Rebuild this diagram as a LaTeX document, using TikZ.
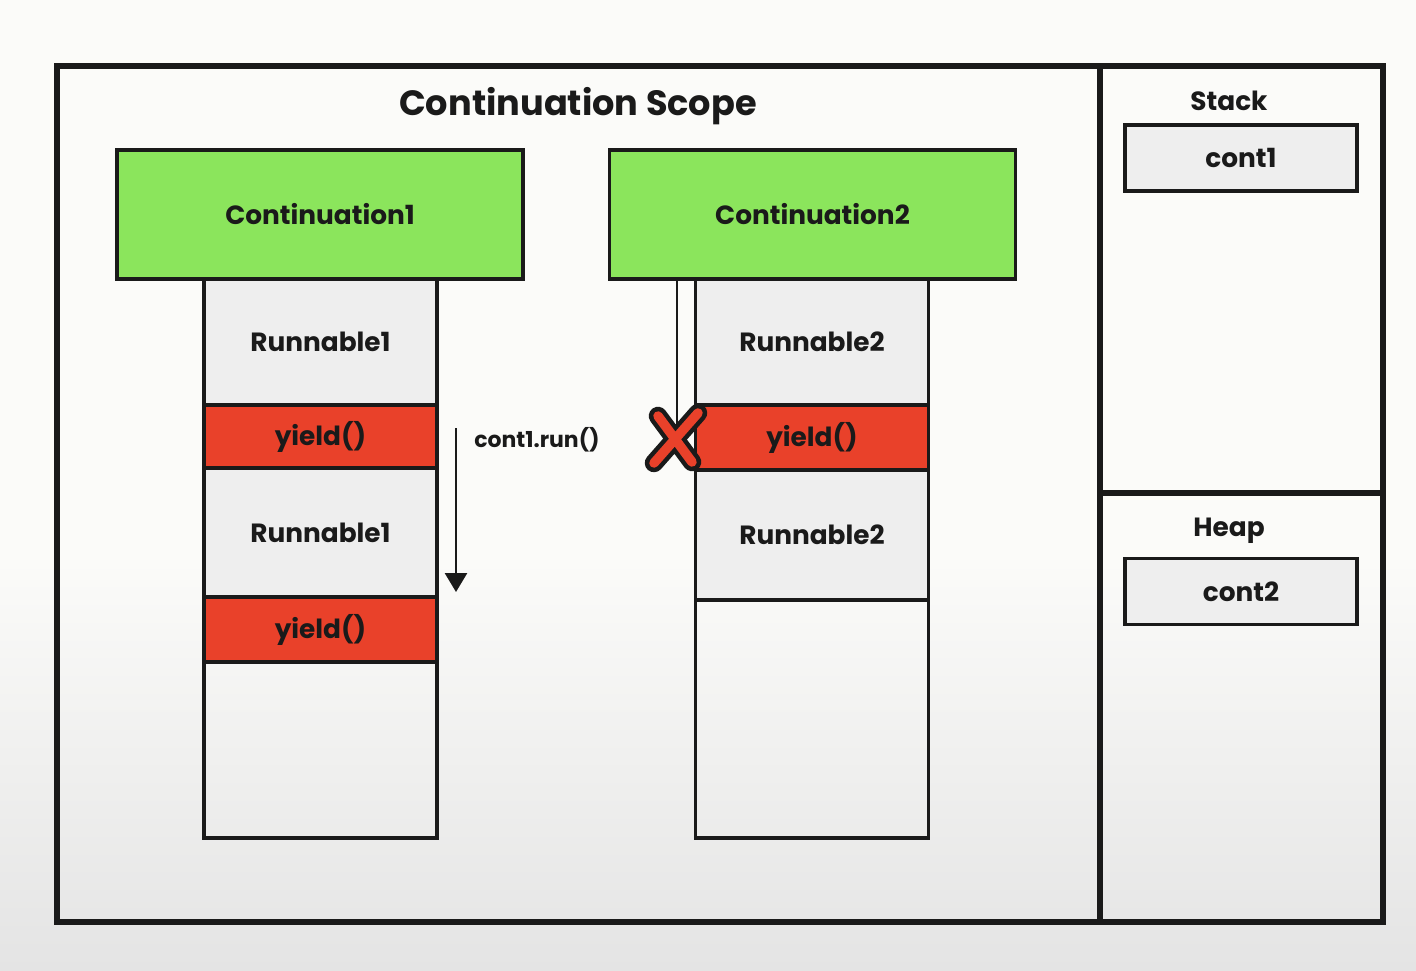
\documentclass[tikz,border=0pt]{standalone}
\usepackage{fontspec}
\setmainfont{Poppins}
\usetikzlibrary{arrows.meta}

\definecolor{contgreen}{HTML}{8BE55C}
\definecolor{yieldred}{HTML}{E9412A}
\definecolor{cellgrey}{HTML}{EEEEEE}
\definecolor{inkblack}{HTML}{1A1A1A}
\definecolor{paper}{HTML}{FBFBF9}
\definecolor{paperlow}{HTML}{E4E4E4}

\tikzset{
  cell/.style={draw=inkblack, line width=1.9pt, minimum width=4.66cm, font=\fontsize{15}{18}\selectfont\bfseries, text=inkblack},
  runcell/.style={cell, fill=cellgrey},
  yieldcell/.style={cell, fill=yieldred},
  contbox/.style={draw=inkblack, line width=1.9pt, fill=contgreen, minimum width=8.12cm, minimum height=2.58cm, font=\fontsize{15}{18}\selectfont\bfseries, text=inkblack},
  memlabel/.style={font=\fontsize{15}{18}\selectfont\bfseries, text=inkblack},
  membox/.style={draw=inkblack, line width=1.9pt, fill=cellgrey, minimum width=4.64cm, minimum height=1.32cm, font=\fontsize{15}{18}\selectfont\bfseries, text=inkblack}
}

\begin{document}
\begin{tikzpicture}[x=0.02cm,y=-0.02cm]

% background
\fill[paper] (0,0) rectangle (1416,560);
\shade[top color=paper, bottom color=paperlow] (0,560) rectangle (1416,970);
\useasboundingbox (0,0) rectangle (1416,970);

% frame
\draw[line width=3pt, inkblack] (57,66) rectangle (1383,922);
\draw[line width=3pt, inkblack] (1100,66) -- (1100,922);
\draw[line width=3pt, inkblack] (1100,493) -- (1383,493);

% scope title
\node[font=\fontsize{20}{24}\selectfont\bfseries, text=inkblack] (title) at (578,106) {Continuation Scope};

% continuation1 and its stack
\node[contbox] (cont1) at (320,214.5) {Continuation1};
\node[runcell, minimum height=2.52cm] (run1a) at (320.5,342) {Runnable1};
\node[yieldcell, minimum height=1.26cm] (yield1a) at (320.5,436.5) {yield()};
\node[runcell, minimum height=2.58cm] (run1b) at (320.5,532.5) {Runnable1};
\node[yieldcell, minimum height=1.30cm] (yield1b) at (320.5,629.5) {yield()};
\node[cell, minimum height=3.52cm] (empty1) at (320.5,750) {};

% run arrow
\coordinate (runtop) at (456,428);
\coordinate (runbot) at (456,592);
\draw[line width=1.6pt, inkblack, -{Triangle[width=0.44cm,length=0.38cm]}] (runtop) -- (runbot);
\node[font=\fontsize{12.5}{15}\selectfont\bfseries, text=inkblack] (runlabel) at (537,440) {cont1.run()};

% continuation2 and its stack
\node[contbox] (cont2) at (812.5,214.5) {Continuation2};
\node[runcell, minimum height=2.52cm] (run2a) at (812,342) {Runnable2};
\node[yieldcell, minimum height=1.30cm] (yield2) at (812,437.5) {yield()};
\node[runcell, minimum height=2.60cm] (run2b) at (812,535) {Runnable2};
\node[cell, minimum height=4.76cm] (empty2) at (812,719) {};

% blocked run
\coordinate (blocktop) at (677,280);
\coordinate (xmark) at (677,438);
\draw[line width=1.5pt, inkblack] (blocktop) -- (xmark);
\draw[line width=0.37cm, line cap=round, inkblack] (658,416) -- (692,462) (698,413) -- (654,463);
\draw[line width=0.19cm, line cap=round, yieldred] (658,416) -- (692,462) (698,413) -- (654,463);

% stack
\node[memlabel] (stacklabel) at (1229,101) {Stack};
\node[membox] (stackcont) at (1241,158) {cont1};

% heap
\node[memlabel] (heaplabel) at (1229,531) {Heap};
\node[membox] (heapcont) at (1241,591.5) {cont2};

\end{tikzpicture}
\end{document}
